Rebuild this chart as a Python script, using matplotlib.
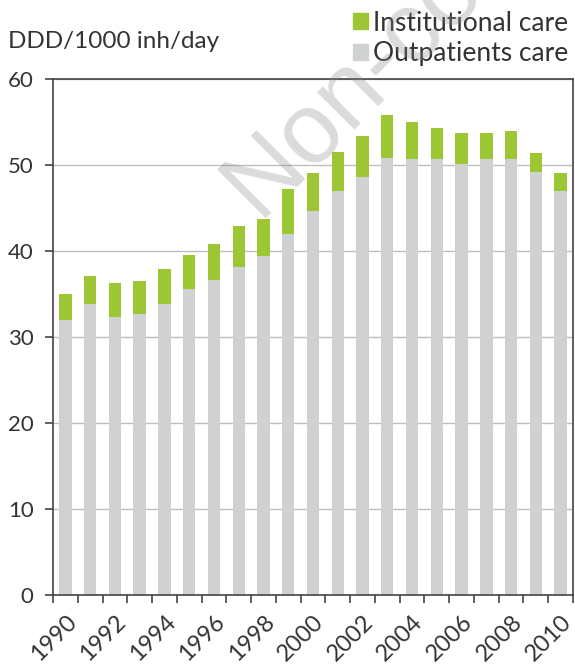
import matplotlib.pyplot as plt
import matplotlib.ticker as ticker
import numpy as np
from matplotlib.patches import Patch

years = list(range(1990, 2011))
outpatients = [32.0, 33.8, 32.3, 32.7, 33.8, 35.6, 36.6, 38.1, 39.4, 42.0, 44.7,
               47.0, 48.6, 50.9, 50.7, 50.7, 50.2, 50.7, 50.7, 49.2, 47.0]
totals = [35.0, 37.1, 36.3, 36.5, 37.9, 39.6, 40.8, 42.9, 43.7, 47.2, 49.1,
          51.6, 53.4, 55.9, 55.1, 54.4, 53.8, 53.8, 54.0, 51.4, 49.1]
institutional = [t - o for t, o in zip(totals, outpatients)]
tick_years = [str(y) for y in years[::2]]

GREEN = '#9cc634'
GREY = '#d0d1d3'
TEXT = '#333333'

plt.rcParams['font.family'] = ['Lato', 'DejaVu Sans']

fig = plt.figure(figsize=(5.75, 6.65), dpi=100)
ax = fig.add_axes([0.0922, 0.106, 0.9043, 0.7745])

x = np.arange(len(years))
ax.bar(x, outpatients, width=0.5, color=GREY, zorder=2)
ax.bar(x, institutional, width=0.5, bottom=outpatients, color=GREEN, zorder=2)

ax.set_xlim(-0.5, len(years) - 0.5)
ax.set_ylim(0, 60)
ax.yaxis.set_major_locator(ticker.MultipleLocator(10))
ax.grid(axis='y', color='#bdbdbd', linewidth=1.0, zorder=0)

ax.set_xticks(x[::2])
ax.set_xticklabels(tick_years, rotation=45, ha='right', va='top',
                   rotation_mode='anchor')
ax.set_xticks(np.arange(-0.5, len(years)), minor=True)
ax.tick_params(axis='x', which='major', length=0, labelsize=17, pad=12,
               labelcolor=TEXT)
ax.tick_params(axis='x', which='minor', length=6, width=1.2, color='#444444')
ax.tick_params(axis='y', length=6, width=1.2, color='#444444', labelsize=16,
               labelcolor=TEXT, pad=8)

for side in ['top', 'right', 'left', 'bottom']:
    ax.spines[side].set_color('#444444')
    ax.spines[side].set_linewidth(1.2)

fig.text(0.014, 0.938, 'DDD/1000 inh/day', fontsize=17.5, color=TEXT,
         va='center', ha='left')

handles = [Patch(color=GREEN, label='Institutional care'),
           Patch(color=GREY, label='Outpatients care')]
fig.legend(handles=handles, loc='upper right', bbox_to_anchor=(0.988, 0.984),
           frameon=False, fontsize=19, handlelength=0.55, handleheight=0.55,
           handletextpad=0.2, labelspacing=0.22, labelcolor=TEXT,
           borderpad=0, borderaxespad=0)

# watermark, runs off the top edge as in the source image
fig.text(0.449, 0.671, 'Non-co', family='Liberation Sans', fontsize=72,
         color='#888888', alpha=0.3, rotation=45, rotation_mode='anchor',
         ha='left', va='baseline', zorder=10)

plt.savefig('out.png', dpi=100)
plt.close()
